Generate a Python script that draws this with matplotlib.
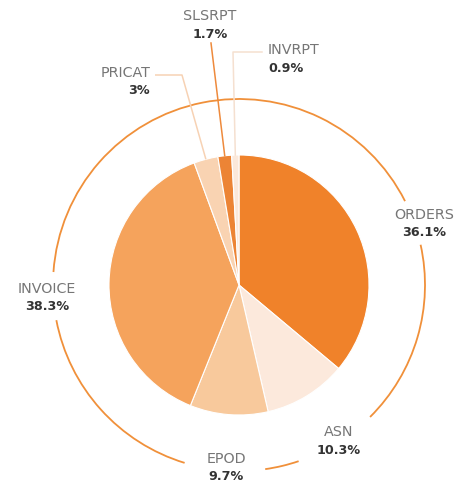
import numpy as np
import matplotlib
matplotlib.use("Agg")
import matplotlib.pyplot as plt
from matplotlib.patches import Arc

categories = ['ORDERS', 'ASN', 'EPOD', 'INVOICE', 'PRICAT', 'SLSRPT', 'INVRPT']
values = [36.1, 10.3, 9.7, 38.3, 3, 1.7, 0.9]
pct_labels = ['36.1%', '10.3%', '9.7%', '38.3%', '3%', '1.7%', '0.9%']
colors = ['#F0822A', '#FCE9DC', '#F8C99C', '#F5A35C', '#F9D3B2', '#EC8435', '#FBE8DA']

W, H = 459, 484
fig = plt.figure(figsize=(W / 100, H / 100), dpi=100)
ax = fig.add_axes([0, 0, 1, 1])

cx, cy = 239, 484 - 285
R = 130
wedges, _ = ax.pie(values, colors=colors, startangle=90, counterclock=False,
                   radius=R, center=(cx, cy),
                   wedgeprops=dict(edgecolor='white', linewidth=0.8))
ax.set_xlim(0, W)
ax.set_ylim(0, H)
ax.set_aspect('equal')
ax.axis('off')

# outer ring arcs (degrees, counter-clockwise)
ring_r = 186
ring_col = '#F0903A'
arcs = [(26.8, 176), (190.9, 253), (278.1, 288.7), (314.8, 372.5)]
for t1, t2 in arcs:
    ax.add_patch(Arc((cx, cy), 2 * ring_r, 2 * ring_r, theta1=t1, theta2=t2,
                     color=ring_col, lw=1.3))

name_col = '#767676'
pct_col = '#333333'
fam = ['DejaVu Sans']

def label(x, y, name, pct, ha='center'):
    ax.text(x, H - y, name, ha=ha, va='center', color=name_col, fontsize=10.3, family=fam)
    ax.text(x, H - y - 18, pct, ha=ha, va='center', color=pct_col, fontsize=9.2,
            fontweight='bold', family=fam)

pos = {
    'ORDERS': (424, 215, 'center'),
    'ASN': (339, 432, 'center'),
    'EPOD': (226, 459, 'center'),
    'INVOICE': (47, 289, 'center'),
    'PRICAT': (150, 73, 'right'),
    'SLSRPT': (210, 16, 'center'),
    'INVRPT': (268, 50, 'left'),
}
for c, p in zip(categories, pct_labels):
    x, y, ha = pos[c]
    label(x, y, c, p, ha)

# leader lines to small slices
def mid_pt(w, r):
    a = np.deg2rad((w.theta1 + w.theta2) / 2)
    return cx + r * np.cos(a), cy + r * np.sin(a)

idx = {c: i for i, c in enumerate(categories)}
# PRICAT
ex, ey = mid_pt(wedges[idx['PRICAT']], R)
ax.plot([155, 182, ex], [H - 75, H - 75, ey], color='#F7D2B4', lw=1.1, solid_capstyle='butt')
# SLSRPT
ex, ey = mid_pt(wedges[idx['SLSRPT']], R)
ax.plot([211, ex], [H - 43, ey], color='#EE8A3C', lw=1.1)
# INVRPT
ex, ey = mid_pt(wedges[idx['INVRPT']], R)
ax.plot([262, 233, ex], [H - 52, H - 52, ey], color='#F5E0D0', lw=1.1)

fig.savefig('out.png', dpi=100, facecolor='white')
